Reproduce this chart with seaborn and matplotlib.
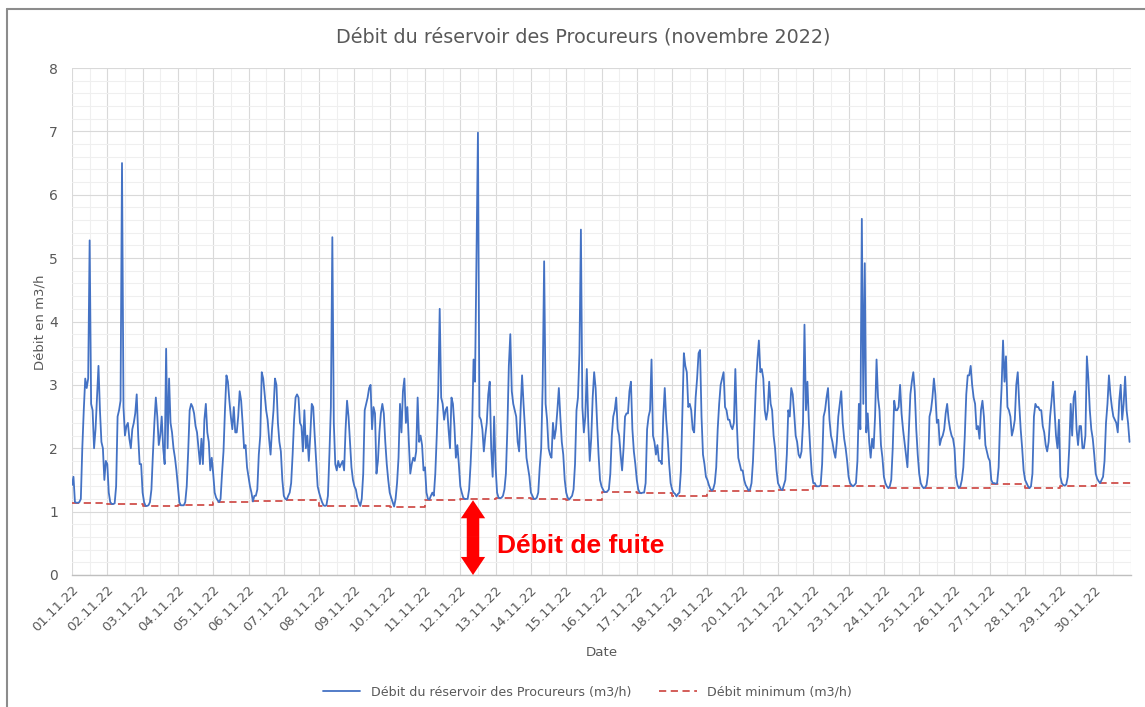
import numpy as np
import pandas as pd
import matplotlib
matplotlib.use("Agg")
import matplotlib.pyplot as plt
import matplotlib.transforms as mtransforms
from matplotlib.lines import Line2D
from matplotlib.patches import FancyArrowPatch
import seaborn as sns

# ---------------- data (hourly flow, m3/h) ----------------
day_labels = ["%02d.11.22" % d for d in range(1, 31)]

flow_days_01_07 = [
    1.42, 1.55, 1.15, 1.14, 1.14, 1.15, 1.2, 2.0, 2.6, 3.1, 2.95, 3.1, 5.28, 2.7, 2.6, 2.0, 2.3, 2.8, 3.3, 2.6, 2.1, 2.0, 1.5, 1.8,
    1.75, 1.3, 1.15, 1.12, 1.12, 1.13, 1.4, 2.5, 2.6, 2.75, 6.5, 2.65, 2.2, 2.35, 2.4, 2.15, 2.0, 2.3, 2.4, 2.55, 2.85, 2.2, 1.75, 1.75,
    1.3, 1.15, 1.09, 1.09, 1.1, 1.15, 1.35, 1.9, 2.4, 2.8, 2.5, 2.05, 2.2, 2.5, 2.0, 1.75, 3.57, 2.0, 3.1, 2.4, 2.25, 2.0, 1.85, 1.65,
    1.4, 1.15, 1.1, 1.1, 1.1, 1.15, 1.4, 1.95, 2.6, 2.7, 2.65, 2.55, 2.35, 2.25, 2.0, 1.75, 2.15, 1.75, 2.45, 2.7, 2.25, 2.1, 1.65, 1.85,
    1.6, 1.3, 1.22, 1.18, 1.15, 1.2, 1.6, 1.95, 2.6, 3.15, 3.05, 2.75, 2.5, 2.3, 2.65, 2.25, 2.25, 2.5, 2.9, 2.75, 2.4, 2.0, 2.05, 1.7,
    1.55, 1.4, 1.3, 1.16, 1.25, 1.25, 1.35, 1.9, 2.2, 3.2, 3.1, 2.85, 2.6, 2.45, 2.15, 1.9, 2.3, 2.6, 3.1, 3.0, 2.4, 2.1, 1.95, 1.5,
    1.25, 1.2, 1.19, 1.25, 1.3, 1.45, 1.9, 2.45, 2.8, 2.85, 2.8, 2.4, 2.35, 1.95, 2.6, 2.0, 2.2, 1.8, 2.2, 2.7, 2.65, 2.2, 1.8, 1.4,
]
flow_days_08_14 = [
    1.3, 1.22, 1.15, 1.1, 1.09, 1.1, 1.25, 1.9, 2.65, 5.33, 2.4, 1.75, 1.65, 1.8, 1.7, 1.75, 1.8, 1.65, 2.3, 2.75, 2.5, 2.1, 1.7, 1.5,
    1.4, 1.35, 1.22, 1.15, 1.09, 1.2, 1.6, 2.6, 2.7, 2.8, 2.95, 3.0, 2.3, 2.65, 2.55, 1.6, 1.8, 2.25, 2.55, 2.7, 2.55, 2.1, 1.75, 1.5,
    1.3, 1.22, 1.15, 1.08, 1.2, 1.45, 1.85, 2.7, 2.25, 2.9, 3.1, 2.4, 2.65, 2.1, 1.6, 1.75, 1.85, 1.8, 1.95, 2.8, 2.1, 2.2, 2.05, 1.65,
    1.7, 1.3, 1.2, 1.19, 1.25, 1.3, 1.25, 1.6, 2.2, 2.9, 4.2, 2.8, 2.7, 2.45, 2.6, 2.65, 2.3, 2.0, 2.8, 2.7, 2.35, 1.85, 2.05, 1.75,
    1.4, 1.3, 1.22, 1.2, 1.2, 1.2, 1.35, 1.75, 2.3, 3.4, 3.05, 5.0, 6.98, 2.5, 2.45, 2.3, 1.95, 2.2, 2.4, 2.85, 3.05, 2.0, 1.55, 2.5,
    1.7, 1.3, 1.22, 1.21, 1.22, 1.25, 1.35, 1.6, 2.3, 3.3, 3.8, 2.9, 2.7, 2.6, 2.5, 2.1, 1.95, 2.6, 3.15, 2.7, 2.3, 1.85, 1.7, 1.55,
    1.3, 1.25, 1.2, 1.2, 1.22, 1.3, 1.7, 2.0, 3.0, 4.95, 2.7, 2.45, 2.0, 1.9, 1.85, 2.4, 2.15, 2.3, 2.6, 2.95, 2.5, 2.1, 1.9, 1.5,
]
flow_days_15_21 = [
    1.3, 1.22, 1.19, 1.22, 1.25, 1.35, 1.75, 2.6, 2.8, 3.5, 5.45, 2.65, 2.25, 2.5, 3.25, 2.4, 1.8, 2.15, 2.8, 3.2, 2.95, 2.4, 1.9, 1.5,
    1.4, 1.35, 1.31, 1.31, 1.32, 1.35, 1.6, 2.2, 2.5, 2.6, 2.8, 2.3, 2.2, 1.9, 1.65, 2.0, 2.5, 2.55, 2.55, 2.9, 3.05, 2.3, 1.95, 1.75,
    1.5, 1.35, 1.3, 1.29, 1.3, 1.3, 1.45, 2.3, 2.5, 2.6, 3.4, 2.2, 2.1, 1.9, 2.05, 1.8, 1.8, 1.75, 2.5, 2.95, 2.45, 2.15, 1.75, 1.45,
    1.35, 1.3, 1.28, 1.24, 1.28, 1.3, 1.65, 2.6, 3.5, 3.3, 3.2, 2.65, 2.7, 2.6, 2.3, 2.25, 2.8, 3.1, 3.5, 3.55, 2.5, 1.9, 1.75, 1.55,
    1.5, 1.42, 1.36, 1.33, 1.36, 1.45, 1.7, 2.3, 2.7, 3.0, 3.1, 3.2, 2.65, 2.6, 2.45, 2.45, 2.35, 2.3, 2.4, 3.25, 2.4, 1.85, 1.75, 1.65,
    1.65, 1.5, 1.42, 1.38, 1.33, 1.35, 1.45, 1.8, 2.4, 3.0, 3.4, 3.7, 3.2, 3.25, 3.1, 2.6, 2.45, 2.6, 3.05, 2.7, 2.6, 2.2, 2.0, 1.65,
    1.45, 1.4, 1.35, 1.34, 1.42, 1.5, 1.9, 2.6, 2.5, 2.95, 2.85, 2.55, 2.2, 2.1, 1.9, 1.85, 1.95, 2.4, 3.95, 2.6, 3.05, 2.4, 1.95, 1.6,
]
flow_days_22_30 = [
    1.45, 1.45, 1.4, 1.4, 1.4, 1.42, 1.75, 2.5, 2.6, 2.8, 2.95, 2.45, 2.2, 2.1, 1.95, 1.85, 2.1, 2.5, 2.7, 2.9, 2.4, 2.15, 2.0, 1.8,
    1.55, 1.45, 1.42, 1.4, 1.42, 1.45, 1.8, 2.7, 2.3, 5.62, 2.7, 4.92, 2.25, 2.55, 2.1, 1.85, 2.15, 2.0, 2.5, 3.4, 2.8, 2.6, 2.05, 1.85,
    1.55, 1.45, 1.4, 1.37, 1.4, 1.5, 2.0, 2.75, 2.6, 2.6, 2.65, 3.0, 2.55, 2.3, 2.1, 1.9, 1.7, 2.3, 2.85, 3.05, 3.2, 2.9, 2.3, 1.9,
    1.6, 1.45, 1.4, 1.37, 1.38, 1.42, 1.6, 2.5, 2.6, 2.8, 3.1, 2.85, 2.4, 2.45, 2.05, 2.15, 2.2, 2.3, 2.55, 2.7, 2.45, 2.3, 2.2, 2.15,
    2.0, 1.55, 1.42, 1.37, 1.4, 1.5, 1.7, 2.2, 2.85, 3.15, 3.15, 3.3, 3.0, 2.8, 2.7, 2.3, 2.35, 2.15, 2.6, 2.75, 2.5, 2.05, 1.95, 1.85,
    1.8, 1.5, 1.45, 1.45, 1.44, 1.45, 1.7, 2.45, 2.95, 3.7, 3.05, 3.45, 2.65, 2.6, 2.5, 2.2, 2.3, 2.45, 3.0, 3.2, 2.7, 2.3, 2.0, 1.65,
    1.5, 1.45, 1.4, 1.37, 1.4, 1.6, 2.5, 2.7, 2.65, 2.65, 2.6, 2.6, 2.35, 2.25, 2.05, 1.95, 2.1, 2.5, 2.75, 3.05, 2.6, 2.2, 2.0, 2.45,
    1.55, 1.45, 1.42, 1.41, 1.43, 1.55, 2.0, 2.7, 2.2, 2.8, 2.9, 2.3, 2.05, 2.35, 2.35, 2.0, 2.0, 2.2, 3.45, 3.1, 2.6, 2.3, 2.15, 1.9,
    1.6, 1.52, 1.48, 1.45, 1.5, 1.55, 1.8, 2.4, 2.7, 3.15, 2.85, 2.65, 2.5, 2.45, 2.4, 2.25, 2.75, 3.0, 2.45, 2.7, 3.13, 2.6, 2.4, 2.1,
]
daily_min = [1.14, 1.12, 1.09, 1.10, 1.15, 1.16, 1.19, 1.09, 1.09, 1.08,
             1.19, 1.20, 1.21, 1.20, 1.19, 1.31, 1.29, 1.24, 1.33, 1.33,
             1.34, 1.40, 1.40, 1.37, 1.37, 1.37, 1.44, 1.37, 1.41, 1.45]

title = "Débit du réservoir des Procureurs (novembre 2022)"
series_flow = "Débit du réservoir des Procureurs (m3/h)"
series_min = "Débit minimum (m3/h)"

# ---------------- build frames ----------------
flow = np.array(flow_days_01_07 + flow_days_08_14 + flow_days_15_21 + flow_days_22_30)
df_flow = pd.DataFrame({"jour": np.arange(len(flow)) / 24.0, "debit": flow})
df_min = pd.DataFrame({"jour": np.arange(len(daily_min) + 1),
                       "debit": daily_min + [daily_min[-1]]})

BLUE = "#4472C4"
RED = "#D0504C"
GREY = "#595959"

sns.set_style("white")
plt.rcParams["font.family"] = ["DejaVu Sans"]

W, H = 1145, 707
fig = plt.figure(figsize=(W / 100, H / 100), dpi=100)
ax = fig.add_axes([72 / W, 1 - 575 / H, (1131 - 72) / W, (575 - 68) / H])

sns.lineplot(data=df_flow, x="jour", y="debit", ax=ax, color=BLUE, lw=1.3,
             legend=False, zorder=3)
sns.lineplot(data=df_min, x="jour", y="debit", ax=ax, color=RED, lw=1.3,
             linestyle=(0, (4, 2.5)), drawstyle="steps-post", legend=False, zorder=2)

ax.set_xlim(0, 30)
ax.set_ylim(0, 8)
ax.set_xticks(np.arange(31))
ax.set_xticklabels(day_labels + [""])
ax.set_xticks(np.arange(0.5, 30, 1), minor=True)
ax.set_yticks(np.arange(0, 9))
ax.set_yticks(np.arange(0, 8.01, 0.2), minor=True)
ax.grid(which="major", color="#d9d9d9", lw=0.8, zorder=0)
ax.grid(which="minor", color="#efefef", lw=0.8, zorder=0)
ax.set_axisbelow(True)
for s in ["top", "right", "left"]:
    ax.spines[s].set_visible(False)
ax.spines["bottom"].set_color("#bfbfbf")
ax.spines["bottom"].set_linewidth(1.0)
ax.tick_params(axis="both", which="both", length=0)
ax.tick_params(axis="y", labelsize=10, labelcolor=GREY, pad=10)
ax.tick_params(axis="x", labelsize=9.5, labelcolor=GREY, pad=9)
ax.set_xlabel("")
ax.set_ylabel("")

offset = mtransforms.ScaledTranslation(0.04, 0, fig.dpi_scale_trans)
for lab in ax.get_xticklabels():
    lab.set_rotation(45)
    lab.set_ha("right")
    lab.set_va("center")
    lab.set_rotation_mode("anchor")
    lab.set_transform(lab.get_transform() + offset)

# titles / axis labels
fig.text(583 / W, 1 - 37 / H, title, ha="center", va="center", fontsize=13.8, color=GREY)
fig.text(40 / W, 1 - 322 / H, "Débit en m3/h", rotation=90, ha="center", va="center",
         fontsize=9.5, color=GREY)
fig.text(602 / W, 1 - 652 / H, "Date", ha="center", va="center", fontsize=9.6, color=GREY)

# legend
handles = [Line2D([], [], color=BLUE, lw=1.3),
           Line2D([], [], color=RED, lw=1.3, linestyle=(0, (4, 2.5)))]
fig.legend(handles, [series_flow, series_min], loc="center",
           bbox_to_anchor=(587 / W, 1 - 692 / H), ncol=2, frameon=False,
           fontsize=9.1, handlelength=3.0, handletextpad=0.8, columnspacing=2.2,
           labelcolor=GREY)

# annotation: leak flow arrow
arrow_x = 11.36
arrow_mid = 0.6
style = "simple,head_length=1.3,head_width=1.75,tail_width=0.9"
for y_end in (1.18, 0.0):
    arr = FancyArrowPatch((arrow_x, arrow_mid), (arrow_x, y_end), arrowstyle=style,
                          mutation_scale=10, color="#FF0000", lw=0,
                          shrinkA=0, shrinkB=0, zorder=5, clip_on=False)
    ax.add_patch(arr)
ax.text(12.03, 0.35, "Débit de fuite", color="#FF0000", fontsize=19,
        fontweight="bold", family=["Liberation Sans", "DejaVu Sans"],
        ha="left", va="baseline", zorder=6)

# chart-area border (cropped on right and bottom)
bx, by = 7 / W, 1 - 9 / H
fig.add_artist(Line2D([bx, 1.01], [by, by], transform=fig.transFigure, color="#8c8c8c", lw=1.5))
fig.add_artist(Line2D([bx, bx], [-0.01, by], transform=fig.transFigure, color="#8c8c8c", lw=1.5))

fig.savefig("out.png", dpi=100, facecolor="white")
